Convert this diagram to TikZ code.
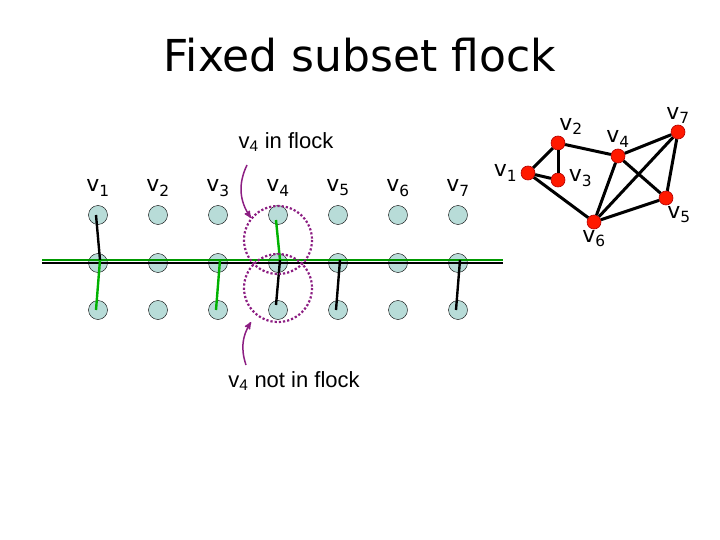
\documentclass[tikz,border=0pt]{standalone}
\usepackage{fontspec}
\setmainfont{Liberation Sans}
\newfontfamily\titlefont{DejaVu Sans}
\usetikzlibrary{arrows}
\definecolor{dotfill}{RGB}{184,220,216}
\definecolor{flockviolet}{RGB}{140,30,130}
\begin{document}
\begin{tikzpicture}[x=1pt,y=-1pt,>=stealth',semithick]
    \tikzstyle{dot}=[circle,draw=black,fill=dotfill,minimum size=19pt,inner sep=0pt,thin]
    \tikzstyle{gv}=[circle,draw=red!70!black,fill=red!80!orange,minimum size=14pt,inner sep=0pt]
    \tikzstyle{lbl}=[font=\titlefont\fontsize{22}{24}\selectfont]
    \tikzstyle{ring}=[draw=flockviolet,line width=2.2pt,dotted]
    \tikzstyle{path}=[line width=2.4pt]
    \useasboundingbox (0,0) rectangle (720,540);
    \node[font=\titlefont\fontsize{44}{48}\selectfont] (title) at (360,55) {Fixed subset flock};
    % grid of positions
    \foreach \i in {1,...,7} {
        \node[lbl] (l\i) at (38+60*\i,188) {v\textsubscript{\i}};
        \node[dot] (a\i) at (38+60*\i,215) {};
        \node[dot] (b\i) at (38+60*\i,263) {};
        \node[dot] (c\i) at (38+60*\i,310) {};
    }
    \coordinate (west) at (42,263);
    \coordinate (east) at (503,263);
    \draw[green!60!black,path] ([yshift=3]west) -- ([yshift=3]east);
    \draw[black,path] (west) -- (east);
    % trajectories
    \draw[black,path] ([xshift=-2]a1.center) -- ([xshift=2,yshift=3]b1.center);
    \draw[green!70!black,path] ([xshift=2,yshift=3]b1.center) -- ([xshift=-2]c1.center);
    \draw[green!70!black,path] ([xshift=2,yshift=3]b3.center) -- ([xshift=-2]c3.center);
    \draw[green!70!black,path] ([xshift=-2,yshift=-5]a4.center) -- ([xshift=2,yshift=3]b4.center);
    \draw[black,path] ([xshift=2,yshift=3]b4.center) -- ([xshift=-2,yshift=5]c4.center);
    \draw[black,path] ([xshift=2,yshift=3]b5.center) -- ([xshift=-2]c5.center);
    \draw[black,path] ([xshift=2,yshift=3]b7.center) -- ([xshift=-2]c7.center);
    % flock rings
    \draw[ring] (278,240) circle (34);
    \draw[ring] (278,288) circle (34);
    \node[font=\fontsize{22}{24}\selectfont] (inflock) at (286,142) {v\textsubscript{4} in flock};
    \node[font=\fontsize{22}{24}\selectfont] (notflock) at (294,381) {v\textsubscript{4} not in flock};
    \coordinate (inend) at (251,218);
    \coordinate (notend) at (251,322);
    \draw[->,flockviolet,line width=1.5pt] (247,165) to[bend right=30] (inend);
    \draw[->,flockviolet,line width=1.5pt] (246,365) to[bend left=25] (notend);
    % graph
    \node[gv] (g1) at (528,173) {};
    \node[gv] (g2) at (558,143) {};
    \node[gv] (g3) at (558,180) {};
    \node[gv] (g4) at (618,156) {};
    \node[gv] (g5) at (666,198) {};
    \node[gv] (g6) at (594,222) {};
    \node[gv] (g7) at (678,132) {};
    \foreach \s/\t in {1/2,1/3,2/3,1/6,2/4,4/6,4/7,4/5,7/6,7/5,5/6}
        \draw[line width=3pt] (g\s) -- (g\t);
    \node[lbl,left] at (g1.west) {v\textsubscript{1}};
    \node[lbl,above right,inner sep=1pt] at (g2.north) {v\textsubscript{2}};
    \node[lbl,right] at ([yshift=2]g3.east) {v\textsubscript{3}};
    \node[lbl,above] at ([yshift=-2]g4.north) {v\textsubscript{4}};
    \node[lbl,below right,inner sep=1pt] at (g5.south) {v\textsubscript{5}};
    \node[lbl,below,inner sep=1pt] at (g6.south) {v\textsubscript{6}};
    \node[lbl,above,inner sep=1pt] at (g7.north) {v\textsubscript{7}};
\end{tikzpicture}
\end{document}
